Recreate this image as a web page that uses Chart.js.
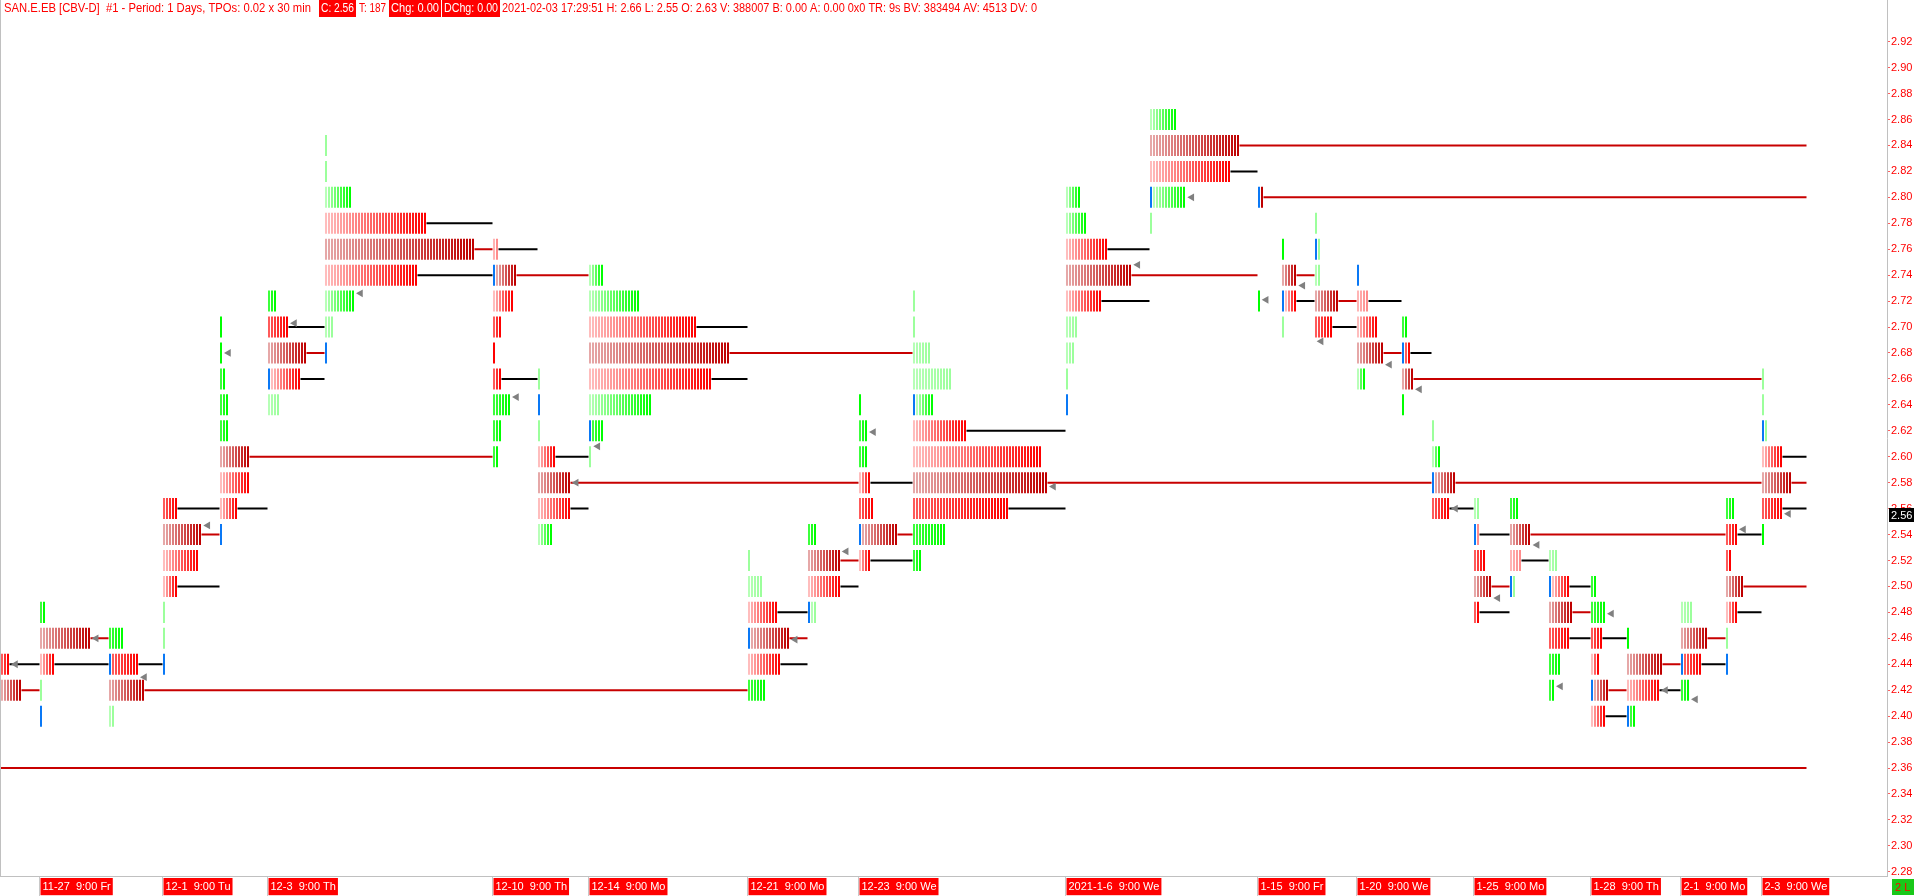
<!DOCTYPE html>
<html>
<head>
<meta charset="utf-8">
<title>SAN.E.EB TPO profile</title>
<script src="https://cdn.jsdelivr.net/npm/chart.js@4.4.1/dist/chart.umd.min.js"></script>
<style>
  html, body { margin: 0; padding: 0; background: #fff; overflow: hidden; }
  #wrap { width: 1916px; height: 896px; }
</style>
</head>
<body>
<div id="wrap"><canvas id="tpoChart" width="1916" height="896"></canvas></div>
<script>
// Price levels shown on the right axis (TPO size 0.02)
const priceLevels = [2.28, 2.30, 2.32, 2.34, 2.36, 2.38, 2.40, 2.42, 2.44, 2.46, 2.48, 2.50,
  2.52, 2.54, 2.56, 2.58, 2.60, 2.62, 2.64, 2.66, 2.68, 2.70, 2.72, 2.74, 2.76, 2.78, 2.80,
  2.82, 2.84, 2.86, 2.88, 2.90, 2.92];
const lastPrice = 2.56;

// Session labels on the time axis, x = 30 min column where the session starts
const dayLabels = ["11-27  9:00 Fr", "12-1  9:00 Tu", "12-3  9:00 Th", "12-10  9:00 Th",
  "12-14  9:00 Mo", "12-21  9:00 Mo", "12-23  9:00 We", "2021-1-6  9:00 We", "1-15  9:00 Fr",
  "1-20  9:00 We", "1-25  9:00 Mo", "1-28  9:00 Th", "2-1  9:00 Mo", "2-3  9:00 We"];
const dayLabelCols = [13, 54, 89, 164, 196, 249, 286, 355, 419, 452, 491, 530, 560, 587];

// Start column of every daily profile
const profileStart = [0, 13, 36, 54, 73, 89, 108, 164, 179, 196, 249, 269, 286, 304, 355,
  383, 419, 427, 438, 452, 467, 477, 491, 503, 516, 530, 542, 560, 575, 587];

// Rows of each profile: [price, TPO count, shade]  ("*" = opening TPO first)
const profileRows = [
  [[2.44, 3, 'R'], [2.42, 7, 'd']],
  [[2.48, 2, 'G'], [2.46, 17, 'd'], [2.44, 5, 'r'], [2.42, 1, 'p'], [2.40, 0, '*']],
  [[2.46, 5, 'G'], [2.44, 9, '*R'], [2.42, 12, 'd'], [2.40, 2, 'p']],
  [[2.56, 5, 'R'], [2.54, 13, 'd'], [2.52, 12, 'r'], [2.50, 5, 'r'], [2.48, 1, 'p'], [2.46, 1, 'p'], [2.44, 0, '*']],
  [[2.70, 1, 'G'], [2.68, 1, 'G'], [2.66, 2, 'G'], [2.64, 3, 'G'], [2.62, 3, 'G'], [2.60, 10, 'd'], [2.58, 10, 'r'], [2.56, 6, 'r'], [2.54, 0, '*']],
  [[2.72, 3, 'G'], [2.70, 7, 'R'], [2.68, 13, 'd'], [2.66, 10, '*r'], [2.64, 4, 'p']],
  [[2.84, 1, 'p'], [2.82, 1, 'p'], [2.80, 9, 'g'], [2.78, 34, 'r'], [2.76, 50, 'd'], [2.74, 31, 'r'], [2.72, 10, 'g'], [2.70, 3, 'p'], [2.68, 0, '*']],
  [[2.76, 2, 'q'], [2.74, 7, '*d'], [2.72, 7, 'r'], [2.70, 3, 'R'], [2.68, 1, 'R'], [2.66, 3, 'R'], [2.64, 6, 'G'], [2.62, 3, 'G'], [2.60, 2, 'G']],
  [[2.66, 1, 'p'], [2.64, 0, '*'], [2.62, 1, 'p'], [2.60, 6, 'r'], [2.58, 11, 'd'], [2.56, 11, 'r'], [2.54, 5, 'g']],
  [[2.74, 5, 'g'], [2.72, 17, 'g'], [2.70, 36, 'r'], [2.68, 47, 'd'], [2.66, 41, 'r'], [2.64, 21, 'g'], [2.62, 4, '*G'], [2.60, 1, 'p']],
  [[2.52, 1, 'p'], [2.50, 5, 'p'], [2.48, 10, 'r'], [2.46, 13, '*d'], [2.44, 11, 'r'], [2.42, 6, 'G']],
  [[2.54, 3, 'G'], [2.52, 11, 'd'], [2.50, 11, 'r'], [2.48, 2, '*p']],
  [[2.64, 1, 'G'], [2.62, 3, 'G'], [2.60, 3, 'G'], [2.58, 4, 'r'], [2.56, 5, 'R'], [2.54, 12, '*d'], [2.52, 4, 'r']],
  [[2.72, 1, 'p'], [2.70, 1, 'p'], [2.68, 6, 'p'], [2.66, 13, 'p'], [2.64, 6, '*g'], [2.62, 18, 'r'], [2.60, 43, 'r'], [2.58, 45, 'd'], [2.56, 32, 'R'], [2.54, 11, 'G'], [2.52, 3, 'G']],
  [[2.80, 5, 'g'], [2.78, 7, 'g'], [2.76, 14, 'r'], [2.74, 22, 'd'], [2.72, 12, 'r'], [2.70, 4, 'p'], [2.68, 3, 'p'], [2.66, 1, 'p'], [2.64, 0, '*']],
  [[2.86, 9, 'g'], [2.84, 30, 'd'], [2.82, 27, 'r'], [2.80, 11, '*g'], [2.78, 1, 'p']],
  [[2.80, 1, '*d'], [2.72, 1, 'G']],
  [[2.76, 1, 'G'], [2.74, 5, 'd'], [2.72, 4, '*r'], [2.70, 1, 'p']],
  [[2.78, 1, 'p'], [2.76, 1, '*p'], [2.74, 2, 'p'], [2.72, 8, 'd'], [2.70, 6, 'R']],
  [[2.74, 0, '*'], [2.72, 4, 'q'], [2.70, 7, 'r'], [2.68, 9, 'd'], [2.66, 3, 'g']],
  [[2.70, 2, 'G'], [2.68, 2, '*R'], [2.66, 4, 'd'], [2.64, 1, 'G']],
  [[2.62, 1, 'p'], [2.60, 3, 'g'], [2.58, 7, '*d'], [2.56, 6, 'R']],
  [[2.56, 2, 'p'], [2.54, 1, '*q'], [2.52, 4, 'R'], [2.50, 6, 'd'], [2.48, 2, 'R']],
  [[2.56, 3, 'G'], [2.54, 7, 'd'], [2.52, 4, 'q'], [2.50, 1, '*p']],
  [[2.52, 3, 'p'], [2.50, 6, '*r'], [2.48, 8, 'd'], [2.46, 7, 'R'], [2.44, 4, 'G'], [2.42, 2, 'G']],
  [[2.50, 2, 'G'], [2.48, 5, 'G'], [2.46, 4, 'R'], [2.44, 3, 'r'], [2.42, 5, '*d'], [2.40, 5, 'r']],
  [[2.46, 1, 'G'], [2.44, 12, 'd'], [2.42, 11, 'r'], [2.40, 2, '*G']],
  [[2.48, 4, 'p'], [2.46, 9, 'd'], [2.44, 6, '*R'], [2.42, 3, 'G']],
  [[2.56, 3, 'G'], [2.54, 4, 'R'], [2.52, 2, 'R'], [2.50, 6, 'd'], [2.48, 4, 'r'], [2.46, 1, 'p'], [2.44, 0, '*']],
  [[2.66, 1, 'p'], [2.64, 1, 'p'], [2.62, 1, '*p'], [2.60, 7, 'r'], [2.58, 10, 'd'], [2.56, 7, 'R'], [2.54, 1, 'G']]
];

// Point of control lines (red): [price, from column, to column]
const pocLines = [
  [2.36, -0.17, 602],
  [2.42, 7, 13], [2.46, 30, 36], [2.42, 48, 249], [2.54, 67, 73], [2.60, 83, 164],
  [2.68, 102, 108], [2.76, 158, 164], [2.74, 172, 196], [2.58, 190, 286], [2.68, 243, 304],
  [2.46, 263, 269], [2.52, 280, 286], [2.54, 299, 304], [2.58, 349, 477], [2.74, 377, 419],
  [2.84, 413, 602], [2.80, 421, 602], [2.74, 432, 438], [2.72, 446, 452], [2.68, 461, 467],
  [2.66, 471, 587], [2.58, 485, 587], [2.50, 497, 503], [2.54, 510, 575], [2.48, 524, 530],
  [2.42, 536, 542], [2.44, 554, 560], [2.46, 569, 575], [2.50, 581, 602], [2.58, 597, 602]
];

// Value area lines (black): [price, from column, to column]
const valueLines = [
  [2.44, 3, 13], [2.44, 18, 36], [2.44, 46, 54], [2.56, 59, 73], [2.50, 59, 73],
  [2.56, 79, 89], [2.70, 96, 108], [2.66, 100, 108], [2.78, 142, 164], [2.74, 139, 164],
  [2.76, 166, 179], [2.66, 167, 179], [2.60, 185, 196], [2.56, 190, 196], [2.70, 232, 249],
  [2.66, 237, 249], [2.48, 259, 269], [2.44, 260, 269], [2.50, 280, 286], [2.58, 290, 304],
  [2.52, 290, 304], [2.62, 322, 355], [2.56, 336, 355], [2.76, 369, 383], [2.72, 367, 383],
  [2.82, 410, 419], [2.72, 432, 438], [2.70, 444, 452], [2.72, 456, 467], [2.68, 470, 477],
  [2.56, 483, 491], [2.54, 493, 503], [2.48, 493, 503], [2.52, 507, 516], [2.50, 523, 530],
  [2.46, 523, 530], [2.46, 534, 542], [2.40, 535, 542], [2.42, 553, 560], [2.44, 567, 575],
  [2.54, 579, 587], [2.48, 579, 587], [2.60, 594, 602], [2.56, 594, 602]
];

// Close markers (grey arrows): [column, price]
const closeMarks = [
  [5.0, 2.44], [31.9, 2.46], [48.0, 2.43], [69.1, 2.547], [76.0, 2.68], [98.0, 2.703],
  [120.0, 2.726], [172.0, 2.646], [191.9, 2.58], [199.1, 2.608], [264.9, 2.459], [281.9, 2.527],
  [291.0, 2.619], [351.0, 2.577], [379.1, 2.748], [397.1, 2.80], [421.9, 2.721], [434.1, 2.732],
  [440.2, 2.689], [463.0, 2.671], [473.0, 2.652], [485.0, 2.56], [499.1, 2.491], [512.2, 2.532],
  [520.0, 2.423], [537.0, 2.479], [555.0, 2.42], [565.0, 2.413], [581.0, 2.544], [596.0, 2.556]
];

// colour ramps for the TPO letters (early period -> late period)
const shades = {
  r: ['#ffbdbd', '#ff0000'],
  R: ['#ff5a5a', '#ff0000'],
  q: ['#ffb4b4', '#ff8c8c'],
  d: ['#e6a8a8', '#bf0000'],
  g: ['#b8ffb8', '#00ff00'],
  G: ['#3cff3c', '#00ff00'],
  p: ['#b6ffb6', '#9cff9c']
};
const openColor = '#0a78f5';

function hexToRgb(h) {
  const n = parseInt(h.slice(1), 16);
  return [n >> 16, (n >> 8) & 255, n & 255];
}
function mix(a, b, t) {
  const A = hexToRgb(a), B = hexToRgb(b);
  return 'rgb(' + A.map((v, i) => Math.round(v + (B[i] - v) * t)).join(',') + ')';
}

// build one floating bar per TPO
const halfTpo = 0.0081;
const tpoPoints = [];
const tpoColors = [];
function pushTpo(col, price, color) {
  tpoPoints.push({ x: col + 0.5, y: [price - halfTpo, price + halfTpo] });
  tpoColors.push(color);
}
profileRows.forEach((rows, i) => {
  const start = profileStart[i];
  rows.forEach(([price, count, code]) => {
    let col = start;
    let shade = code;
    if (code[0] === '*') {
      pushTpo(col, price, openColor);
      col++;
      shade = code.slice(1);
    }
    for (let k = 0; k < count; k++) {
      const t = count > 1 ? k / (count - 1) : 1;
      pushTpo(col + k, price, mix(shades[shade][0], shades[shade][1], t));
    }
  });
});

// segments -> one line dataset with gaps
function segmentPoints(list) {
  const pts = [];
  list.forEach(([p, a, b]) => {
    pts.push({ x: a, y: p }, { x: b, y: p }, { x: b, y: null });
  });
  return pts;
}

// header text pieces with their left / right pixel edges
const headerParts = [
  { text: "SAN.E.EB [CBV-D]  #1 - Period: 1 Days, TPOs: 0.02 x 30 min", box: false, from: 4, to: 311 },
  { text: "C: 2.56", box: true, from: 319, to: 356 },
  { text: "T: 187", box: false, from: 359, to: 386 },
  { text: "Chg: 0.00", box: true, from: 389, to: 441 },
  { text: "DChg: 0.00", box: true, from: 442, to: 500 },
  { text: "2021-02-03 17:29:51 H: 2.66 L: 2.55 O: 2.63 V: 388007 B: 0.00 A: 0.00 0x0 TR: 9s BV: 383494 AV: 4513 DV: 0", box: false, from: 502, to: 1037 }
];

const overlay = {
  id: 'overlay',
  afterDraw(chart) {
    const ctx = chart.ctx;
    const area = chart.chartArea;
    ctx.save();
    // left frame line
    ctx.fillStyle = '#c0c0c0';
    ctx.fillRect(area.left, area.top, 1, area.bottom - area.top);

    // header line
    ctx.font = '12px "Liberation Sans", Arial, sans-serif';
    ctx.textBaseline = 'middle';
    const pad = 2;
    headerParts.forEach(p => {
      const w = ctx.measureText(p.text).width;
      const inner = p.to - p.from - (p.box ? pad * 2 : 0);
      if (p.box) {
        ctx.fillStyle = '#ff0000';
        ctx.fillRect(p.from, 0, p.to - p.from, 17);
      }
      ctx.save();
      ctx.translate(p.from + (p.box ? pad : 0), 0);
      ctx.scale(inner / w, 1);
      ctx.fillStyle = p.box ? '#ffffff' : '#ff0000';
      ctx.fillText(p.text, 0, 9);
      ctx.restore();
    });

    // current price tag on the price axis
    const yScale = chart.scales.y;
    const py = Math.round(yScale.getPixelForValue(lastPrice));
    ctx.font = '11px "Liberation Sans", Arial, sans-serif';
    ctx.fillStyle = '#000000';
    ctx.fillRect(yScale.left + 2, py - 1, 25, 14);
    ctx.fillStyle = '#ffffff';
    ctx.textAlign = 'left';
    ctx.fillText(lastPrice.toFixed(2), yScale.left + 4, py + 6.5);

    // bar-count box bottom right
    const xScale = chart.scales.x;
    ctx.fillStyle = '#19c819';
    ctx.fillRect(yScale.left + 5, xScale.top + 3, 22, 16);
    ctx.fillStyle = '#ff0000';
    ctx.fillText('2 L', yScale.left + 8, xScale.top + 11.5);
    ctx.restore();
  }
};

new Chart(document.getElementById('tpoChart'), {
  type: 'bar',
  data: {
    datasets: [
      {
        type: 'scatter',
        label: 'Close',
        data: closeMarks.map(([x, y]) => ({ x, y })),
        pointStyle: 'triangle',
        rotation: -90,
        pointRadius: 4.5,
        backgroundColor: '#808080',
        borderWidth: 0,
        order: 0
      },
      {
        type: 'bar',
        label: 'TPO',
        data: tpoPoints,
        backgroundColor: tpoColors,
        barThickness: 2,
        borderWidth: 0,
        inflateAmount: 0,
        order: 1
      },
      {
        type: 'line',
        label: 'POC',
        data: segmentPoints(pocLines),
        borderColor: '#c80000',
        borderWidth: 2,
        pointRadius: 0,
        spanGaps: false,
        fill: false,
        tension: 0,
        order: 2
      },
      {
        type: 'line',
        label: 'Value area',
        data: segmentPoints(valueLines),
        borderColor: '#000000',
        borderWidth: 2,
        pointRadius: 0,
        spanGaps: false,
        fill: false,
        tension: 0,
        order: 3
      }
    ]
  },
  options: {
    responsive: false,
    devicePixelRatio: 1,
    animation: false,
    events: [],
    layout: { padding: 0, autoPadding: false },
    plugins: {
      legend: { display: false },
      tooltip: { enabled: false }
    },
    scales: {
      x: {
        type: 'linear',
        position: 'bottom',
        offset: false,
        min: -1 / 6,
        max: 629 - 1 / 6,
        afterBuildTicks: s => { s.ticks = dayLabelCols.map(v => ({ value: v })); },
        afterFit: s => { s.height = 20; s.paddingLeft = 0; s.paddingRight = 0; },
        border: { color: '#c0c0c0' },
        grid: { offset: false, drawOnChartArea: false, drawTicks: true, tickLength: 20, tickColor: '#c8c8c8' },
        ticks: {
          autoSkip: false,
          maxRotation: 0,
          minRotation: 0,
          align: 'start',
          labelOffset: 3,
          padding: -16,
          color: '#ffffff',
          font: { family: '"Liberation Sans", Arial, sans-serif', size: 11 },
          showLabelBackdrop: true,
          backdropColor: '#ff0000',
          backdropPadding: { top: 2, bottom: 2, left: 2, right: 2 },
          callback: (v, i) => dayLabels[i]
        }
      },
      y: {
        type: 'linear',
        position: 'right',
        offset: false,
        min: 2.27674,
        max: 2.95215,
        afterBuildTicks: s => { s.ticks = priceLevels.map(v => ({ value: v })); },
        afterFit: s => { s.width = 29; s.paddingTop = 0; s.paddingBottom = 0; },
        border: { color: '#c0c0c0' },
        grid: { drawOnChartArea: false, drawTicks: true, tickLength: 3, tickColor: '#ff6060' },
        ticks: {
          autoSkip: false,
          padding: 1,
          color: '#ff0000',
          font: { family: '"Liberation Sans", Arial, sans-serif', size: 11 },
          callback: v => v.toFixed(2)
        }
      }
    }
  },
  plugins: [overlay]
});
</script>
</body>
</html>
